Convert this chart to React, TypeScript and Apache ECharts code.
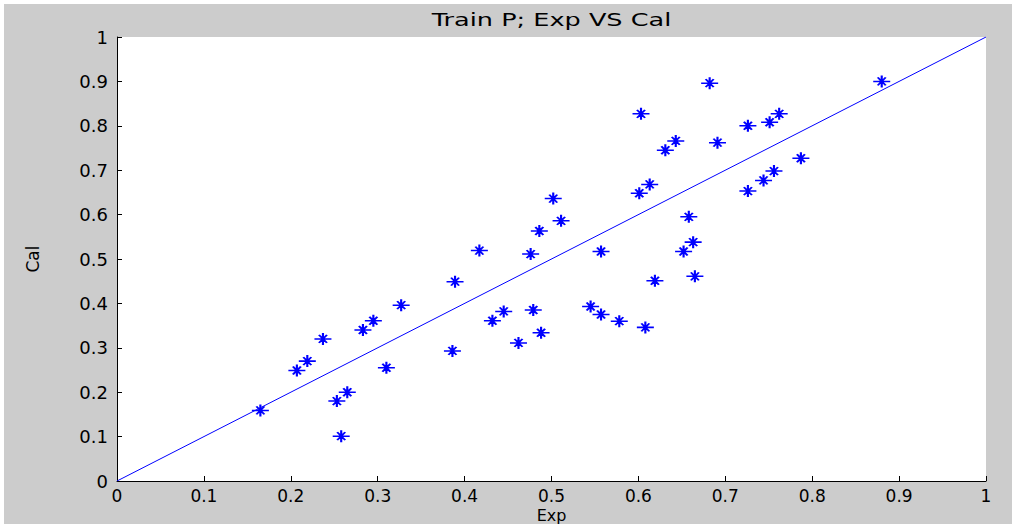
import React, { useEffect, useRef } from "react";
import * as echarts from "echarts";

const expValues = [
  0.165, 0.207, 0.219, 0.237, 0.253, 0.265, 0.258, 0.283, 0.295, 0.31, 0.327,
  0.386, 0.389, 0.417, 0.432, 0.445, 0.462, 0.476, 0.479, 0.486, 0.488, 0.502,
  0.511, 0.545, 0.557, 0.557, 0.578, 0.601, 0.603, 0.608, 0.613, 0.619, 0.631,
  0.643, 0.652, 0.658, 0.663, 0.665, 0.682, 0.691, 0.726, 0.726, 0.744, 0.751,
  0.756, 0.762, 0.787, 0.88,
];
const calValues = [
  0.159, 0.249, 0.27, 0.32, 0.18, 0.2, 0.101, 0.34, 0.361, 0.255, 0.396,
  0.293, 0.449, 0.519, 0.361, 0.382, 0.311, 0.511, 0.385, 0.563, 0.334, 0.636,
  0.586, 0.393, 0.517, 0.375, 0.36, 0.648, 0.827, 0.346, 0.668, 0.451, 0.745,
  0.766, 0.517, 0.595, 0.538, 0.461, 0.896, 0.762, 0.8, 0.653, 0.677, 0.808,
  0.698, 0.827, 0.727, 0.9,
];
const lineX = [0, 1];
const lineY = [0, 1];

const titleText = "Train P; Exp VS Cal";
const xName = "Exp";
const yName = "Cal";

const starPath =
  "path://M0 6L17 6M8.5 0L8.5 12M4.5 2L12.5 10M12.5 2L4.5 10M7 6L10 6M8.5 4.5L8.5 7.5";

export default function App() {
  const ref = useRef<HTMLDivElement>(null);
  useEffect(() => {
    document.body.style.margin = "0";
    const chart = echarts.init(ref.current!, null, { renderer: "svg" });
    const font = "'DejaVu Sans', 'Liberation Sans', sans-serif";
    chart.setOption({
      animation: false,
      backgroundColor: "#cccccc",
      grid: {
        left: 113,
        top: 33,
        width: 869,
        height: 444,
        containLabel: false,
        outerBoundsMode: "none",
        show: true,
        backgroundColor: "#ffffff",
        borderWidth: 0,
      },
      graphic: [
        {
          type: "text",
          x: 547.5,
          y: 15,
          scaleX: 1.42,
          style: {
            text: titleText,
            fontFamily: font,
            fontSize: 18,
            fill: "#000000",
            align: "center",
            verticalAlign: "middle",
          },
        },
      ],
      xAxis: {
        type: "value",
        min: 0,
        max: 1,
        interval: 0.1,
        name: xName,
        nameLocation: "middle",
        nameGap: 27,
        nameMoveOverlap: false,
        nameTextStyle: { color: "#000", fontFamily: font, fontSize: 16, lineHeight: 15 },
        axisLine: { show: true, onZero: false, lineStyle: { color: "#000", width: 1 } },
        axisTick: { show: true, inside: true, length: 5, lineStyle: { color: "#000" } },
        axisLabel: { color: "#000", fontFamily: font, fontSize: 17, lineHeight: 16, margin: 7 },
        splitLine: { show: false },
      },
      yAxis: {
        type: "value",
        min: 0,
        max: 1,
        interval: 0.1,
        name: yName,
        nameLocation: "middle",
        nameGap: 76,
        nameRotate: 90,
        nameTextStyle: { color: "#000", fontFamily: font, fontSize: 17 },
        axisLine: { show: true, onZero: false, lineStyle: { color: "#000", width: 1 } },
        axisTick: { show: true, inside: true, length: 5, lineStyle: { color: "#000" } },
        axisLabel: { color: "#000", fontFamily: font, fontSize: 18, margin: 9 },
        splitLine: { show: false },
      },
      series: [
        {
          type: "line",
          data: lineX.map((x, i) => [x, lineY[i]]),
          symbol: "none",
          lineStyle: { color: "#0000ff", width: 1 },
          silent: true,
        },
        {
          type: "scatter",
          data: expValues.map((x, i) => [x, calValues[i]]),
          symbol: starPath,
          symbolSize: [17, 12],
          itemStyle: { color: "#0000ff", borderColor: "#0000ff", borderWidth: 1.8, opacity: 1 },
        },
      ],
    });
    return () => chart.dispose();
  }, []);
  return (
    <div style={{ position: "absolute", left: 0, top: 0, width: 1012, height: 524, background: "#ffffff" }}>
      <div ref={ref} style={{ position: "absolute", left: 4, top: 4, width: 1008, height: 520 }} />
    </div>
  );
}
